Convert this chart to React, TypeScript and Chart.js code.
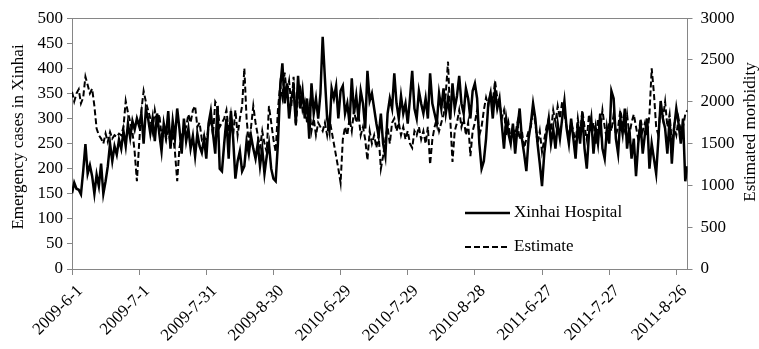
import { useEffect, useRef } from "react";
import { Chart, registerables } from "chart.js";

Chart.register(...registerables);

// Daily values, 1 June – 31 August of each year
const XINHAI_2009 = [
  151, 172, 160, 158, 149, 195, 249, 190, 207, 185, 150, 188, 165, 210, 150, 175, 205, 250, 215, 245,
  228, 258, 240, 275, 245, 290, 262, 295, 278, 300, 285, 310, 250, 318, 300,
  270, 300, 255, 310, 270, 235, 290, 265, 315, 240, 295, 260, 320, 280, 230, 300, 255, 280, 240, 265,
  225, 270, 245, 232, 260, 220, 290, 315, 270, 230, 325, 200, 195, 250, 300, 220, 315, 260,
  180, 215, 235, 195, 205, 255, 230, 265, 240, 220, 250, 205, 240, 190, 225, 250, 200, 180, 175,
];
const XINHAI_2010 = [
  250, 360, 410, 330, 370, 300, 340, 360, 290, 385, 320, 355, 300, 340, 260, 370, 310, 340, 300,
  350, 463, 380, 300, 275, 360, 340, 365, 300, 355, 365, 310, 330, 290, 380, 310, 345, 300, 355, 330,
  280, 395, 335, 350, 320, 290, 265, 310, 250, 225, 310, 340, 320, 390, 330, 300, 345,
  310, 330, 290, 340, 395, 320, 300, 355, 330, 310, 340, 300, 390, 330, 310, 290, 350, 320, 360, 310,
  340, 300, 370, 320, 345, 385, 330, 310, 360, 340, 300, 355, 370, 340, 250, 200,
];
const XINHAI_2011 = [
  215, 260, 330, 350, 300, 355, 320, 340, 290, 240, 300, 270, 250, 290, 230, 280, 320, 260, 230, 195,
  260, 290, 330, 300, 250, 210, 165, 230, 270, 300, 250, 280, 240, 290, 260, 300, 335, 280, 250, 300,
  260, 220, 290, 250, 310, 240, 200, 270, 300, 230, 280, 250, 310, 240, 220, 280, 250, 355, 340, 260,
  230, 300, 270, 320, 240, 280, 220, 260, 185, 250, 290, 230, 270, 300, 200, 250,
  220, 190, 260, 335, 300, 280, 230, 300, 210, 280, 320, 290, 250, 300, 175, 205,
];

const ESTIMATE_2009 = [
  2121, 2004, 2100, 2150, 1980, 2050, 2300, 2200, 2100, 2156, 1950, 1680, 1600, 1560, 1500, 1620, 1520,
  1640, 1560, 1600, 1580, 1620, 1600, 1700, 2010, 1870, 1760, 1640, 1400, 1050, 1500, 1900, 2130, 2000, 1900,
  1800, 1650, 1900, 1750, 1850, 1600, 1700, 1550, 1650, 1500, 1620, 1400, 1050, 1450, 1600, 1650, 1700,
  1850, 1750, 1900, 1950, 1700, 1750, 1550, 1600, 1500, 1700, 1800, 1600, 2000, 1950, 1700, 1750, 1800,
  1900, 1650, 1850, 1600,
  1900, 1600, 1800, 1950, 2400, 1800, 1500, 1700, 1950, 1750, 1600, 1450, 1650, 1500, 1400, 1950, 1750, 1550, 1400,
];
const ESTIMATE_2010 = [
  1900, 2200, 2050, 2350, 2100, 2250, 1950, 2300, 1700, 2050, 2150, 1900, 2000, 1750, 1950, 1650, 1800, 1600, 1750,
  1700, 1650, 1750, 1600, 1800, 1650, 1500, 1350, 1200, 1030, 1550, 1700, 1600, 1800, 1650, 1900, 1750,
  1850, 1600, 1700, 1550, 1300, 1650, 1500, 1600, 1450, 1600, 1200, 1350, 1550, 1700, 1500, 1750, 1800,
  1650, 1750, 1600,
  1700, 1550, 1650, 1500, 1450, 1650, 1600, 1700, 1550, 1650, 1500, 1700, 1250, 1550, 1700, 1800, 1650,
  1750, 1850, 2100, 2480, 1800, 1280, 1650, 1750, 1900, 1700, 1800, 1600, 1750, 1350, 1650, 1750, 1900,
  1600, 1700,
];
const ESTIMATE_2011 = [
  1900, 2050, 1950, 2100, 2000, 2250, 2050, 2000, 1800, 1900, 1600, 1750, 1550, 1700, 1600, 1750, 1550,
  1650, 1450, 1550, 1650, 1700, 1900, 1750, 1500, 1650, 1400, 1550, 1700, 1800, 1650, 1900, 1750, 1950,
  1800, 2000, 1850, 1700, 1600, 1750,
  1650, 1500, 1800, 1600, 1900, 1700, 1550, 1850, 1650, 1750, 1500, 1800, 1650, 1900, 1700, 1550, 1750,
  1650, 1850, 1600, 1700, 1900, 1750, 1650, 1850, 1600, 1750, 1850, 1700, 1550, 1800, 1650, 1750, 1600,
  1850, 2400,
  2100, 1700, 1600, 1950, 1800, 2000, 1700, 1850, 1500, 1700, 1600, 1800, 1650, 1700, 1850, 1900,
];

const TICK_LABELS = [
  "2009-6-1", "2009-7-1", "2009-7-31", "2009-8-30", "2010-6-29",
  "2010-7-29", "2010-8-28", "2011-6-27", "2011-7-27", "2011-8-26",
];
const TICK_STEP = 30;

const SERIES_NAMES = ["Xinhai Hospital", "Estimate"];
const LEFT_TITLE = "Emergency cases in Xinhai";
const RIGHT_TITLE = "Estimated morbidity";
const LEFT_MAX = 500;
const LEFT_STEP = 50;
const RIGHT_MAX = 3000;
const RIGHT_STEP = 500;

const FONT = '"Liberation Serif", "Times New Roman", serif';
const FONT_SIZE = 17;
const AXIS_COLOR = "#868686";

const decorPlugin = {
  id: "decor",
  afterDraw(chart: any) {
    const { ctx, chartArea: a } = chart;
    ctx.save();
    // top frame line
    ctx.strokeStyle = AXIS_COLOR;
    ctx.lineWidth = 1;
    ctx.beginPath();
    ctx.moveTo(a.left, Math.round(a.top) + 0.5);
    ctx.lineTo(a.right, Math.round(a.top) + 0.5);
    ctx.stroke();

    ctx.fillStyle = "#000";
    ctx.font = `${FONT_SIZE}px ${FONT}`;
    ctx.textAlign = "center";
    ctx.textBaseline = "middle";

    // left title
    ctx.save();
    ctx.translate(19, 137);
    ctx.rotate(-Math.PI / 2);
    ctx.fillText(LEFT_TITLE, 0, 0);
    ctx.restore();

    // right title
    ctx.save();
    ctx.translate(751, 132);
    ctx.rotate(-Math.PI / 2);
    ctx.fillText(RIGHT_TITLE, 0, 0);
    ctx.restore();

    // legend
    const lx0 = 465;
    const lx1 = 510;
    const rows = [213, 247];
    ctx.strokeStyle = "#000";
    ctx.textAlign = "left";
    rows.forEach((y, k) => {
      ctx.lineWidth = k === 0 ? 2.5 : 2;
      ctx.setLineDash(k === 0 ? [] : [6, 3]);
      ctx.beginPath();
      ctx.moveTo(lx0, y);
      ctx.lineTo(lx1, y);
      ctx.stroke();
      ctx.setLineDash([]);
      ctx.fillText(SERIES_NAMES[k], 514, y);
    });
    ctx.restore();
  },
};

export default function App() {
  const ref = useRef<HTMLCanvasElement>(null);

  useEffect(() => {
    const xinhai = [...XINHAI_2009, ...XINHAI_2010, ...XINHAI_2011];
    const estimate = [...ESTIMATE_2009, ...ESTIMATE_2010, ...ESTIMATE_2011];
    const n = xinhai.length;
    const font = { family: FONT, size: FONT_SIZE };

    const chart = new Chart(ref.current as HTMLCanvasElement, {
      type: "line",
      data: {
        datasets: [
          {
            label: SERIES_NAMES[0],
            data: xinhai.map((v, i) => ({ x: i, y: v })),
            yAxisID: "y",
            borderColor: "#000",
            borderWidth: 2.5,
            pointRadius: 0,
            tension: 0,
            order: 2,
          },
          {
            label: SERIES_NAMES[1],
            data: estimate.map((v, i) => ({ x: i, y: v })),
            yAxisID: "y1",
            borderColor: "#000",
            borderWidth: 2,
            borderDash: [6, 3],
            pointRadius: 0,
            tension: 0,
            order: 1,
          },
        ],
      },
      options: {
        responsive: false,
        animation: false,
        devicePixelRatio: 1,
        layout: { padding: { top: 13, left: 0, right: 0, bottom: 0 } },
        plugins: { legend: { display: false }, tooltip: { enabled: false } },
        scales: {
          x: {
            type: "linear",
            min: 0,
            max: n - 1,
            afterBuildTicks: (axis: any) => {
              axis.ticks = TICK_LABELS.map((_, k) => ({ value: k * TICK_STEP }));
            },
            afterFit: (s: any) => {
              s.height = 80;
            },
            ticks: {
              callback: (v: any) => TICK_LABELS[Math.round(Number(v) / TICK_STEP)],
              minRotation: 45,
              maxRotation: 45,
              autoSkip: false,
              font,
              color: "#000",
              padding: 6,
              labelOffset: 8,
            },
            grid: { drawOnChartArea: false, drawTicks: true, tickLength: 6, color: AXIS_COLOR },
            border: { color: AXIS_COLOR, width: 1 },
          },
          y: {
            position: "left",
            min: 0,
            max: LEFT_MAX,
            afterFit: (s: any) => {
              s.width = 72;
            },
            ticks: {
              stepSize: LEFT_STEP,
              font,
              color: "#000",
              padding: 4,
              callback: (v: any) => String(v),
            },
            grid: { drawOnChartArea: false, drawTicks: true, tickLength: 5, color: AXIS_COLOR },
            border: { color: AXIS_COLOR, width: 1 },
          },
          y1: {
            position: "right",
            min: 0,
            max: RIGHT_MAX,
            afterFit: (s: any) => {
              s.width = 71.5;
            },
            ticks: {
              stepSize: RIGHT_STEP,
              font,
              color: "#000",
              padding: 8,
              callback: (v: any) => String(v),
            },
            grid: { drawOnChartArea: false, drawTicks: true, tickLength: 5, color: AXIS_COLOR },
            border: { color: AXIS_COLOR, width: 1 },
          },
        },
      },
      plugins: [decorPlugin],
    });
    return () => chart.destroy();
  }, []);

  return (
    <div style={{ position: "absolute", left: 0, top: 0, width: 759, height: 349, background: "#fff" }}>
      <canvas ref={ref} width={759} height={349} style={{ display: "block" }} />
    </div>
  );
}
